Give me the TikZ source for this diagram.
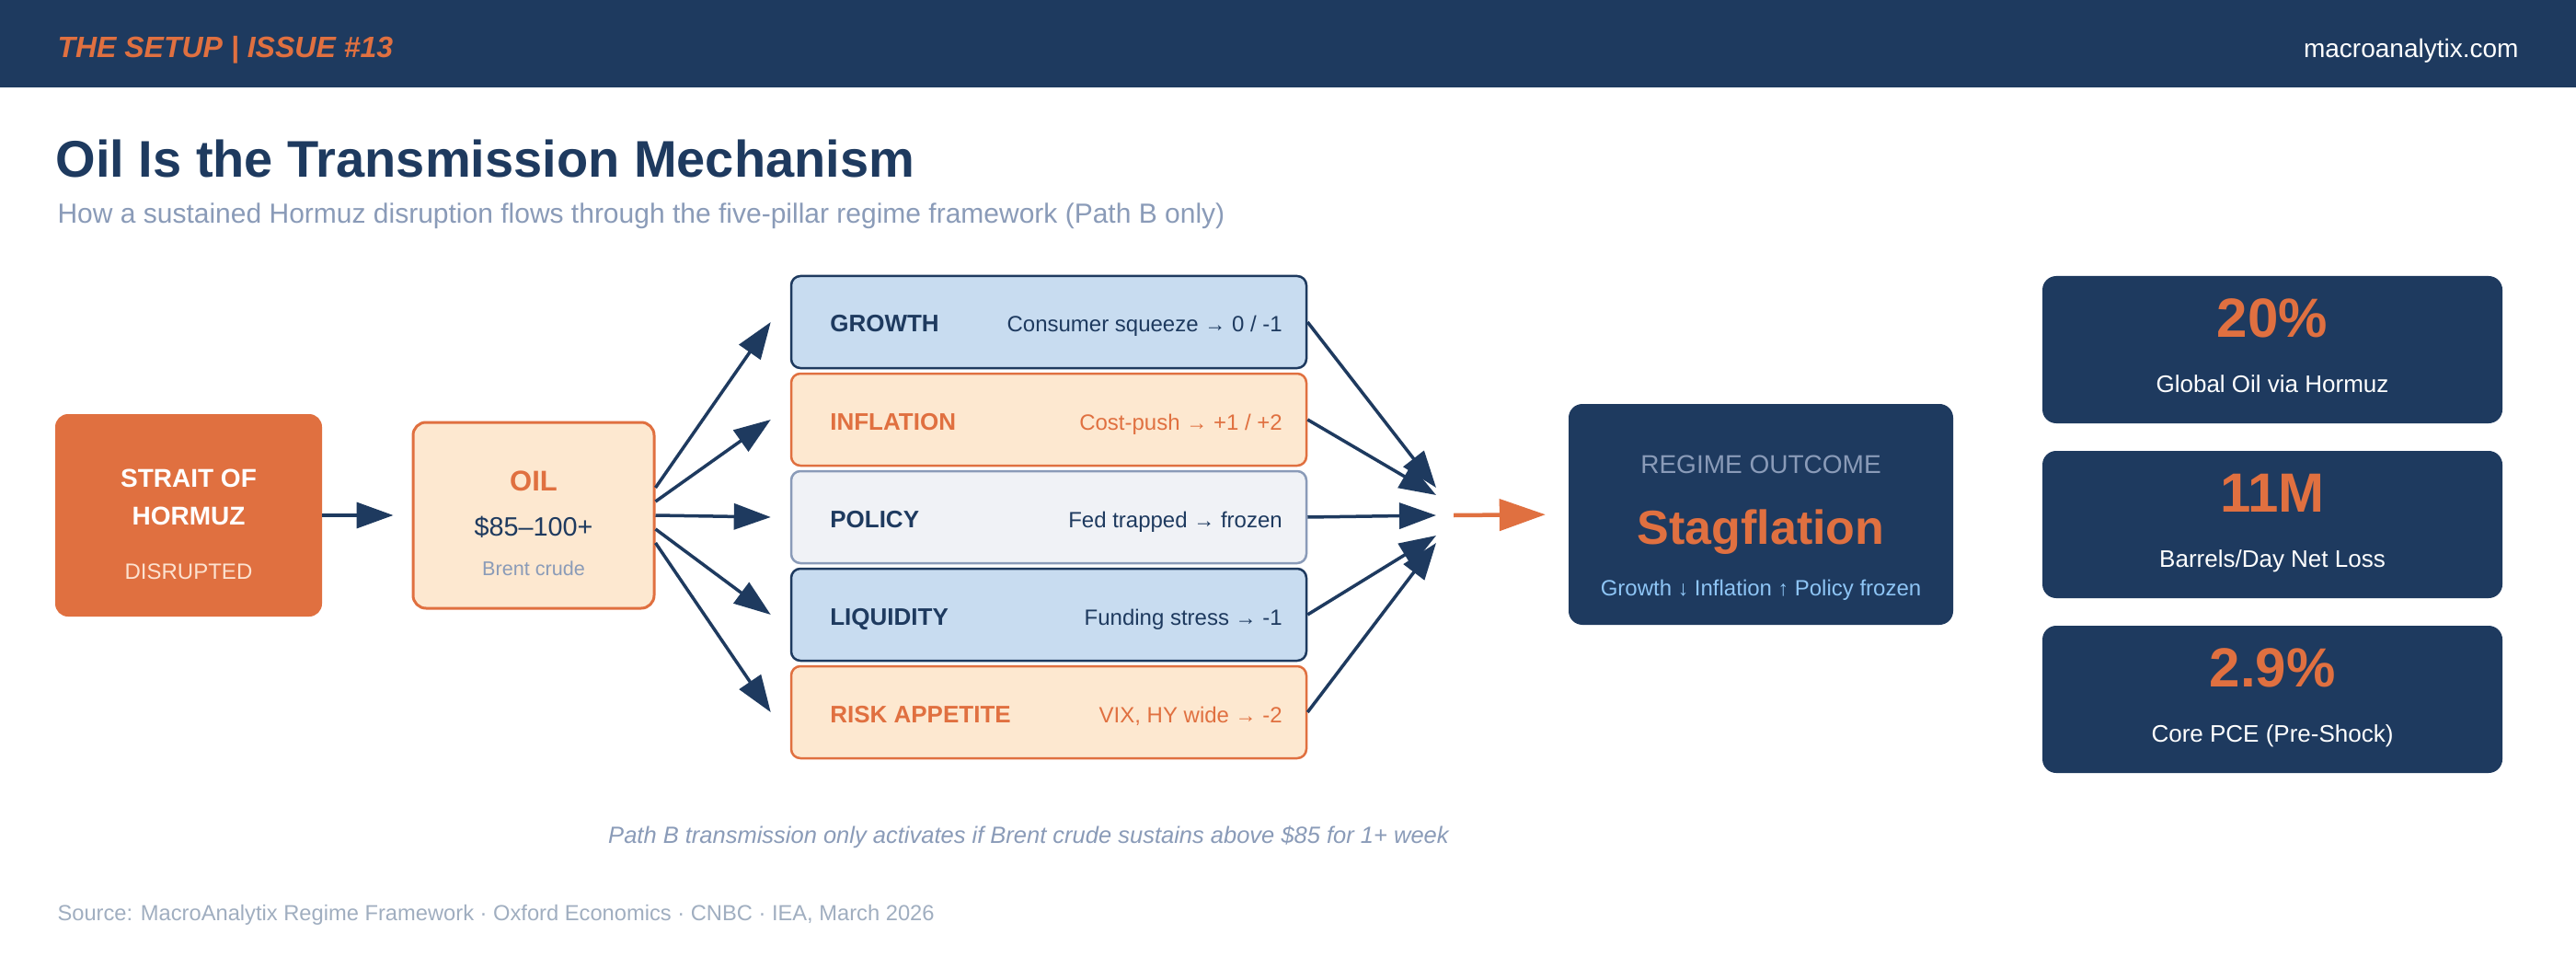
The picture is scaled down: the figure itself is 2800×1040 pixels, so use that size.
\documentclass[tikz,border=0pt]{standalone}
\usepackage{fontspec}
\setmainfont{Liberation Sans}
\usetikzlibrary{arrows.meta,calc}
\definecolor{navy}{HTML}{1E3A5F}
\definecolor{rust}{HTML}{E07040}
\definecolor{peach}{HTML}{FDE8D0}
\definecolor{skyfill}{HTML}{C8DCF0}
\definecolor{mist}{HTML}{F0F2F6}
\definecolor{slate}{HTML}{8A9BB8}
\definecolor{pale}{HTML}{A0AEC0}
\definecolor{icy}{HTML}{8EC5F5}
\definecolor{blush}{HTML}{FCE2D0}
\newcommand{\fs}[1]{\fontsize{#1}{#1}\selectfont}
\newcommand{\sarr}[1]{{\fs{23}#1}}
\begin{document}
\begin{tikzpicture}[x=1pt,y=-1pt,
  pillar/.style={draw,line width=2.5pt,rounded corners=10pt,minimum width=560pt,minimum height=100pt,inner sep=0pt},
  darkbox/.style={fill=navy,rounded corners=15pt,inner sep=0pt},
  flow/.style={-{Triangle[length=40pt,width=28pt]},line width=3.5pt,navy},
  tag/.style={anchor=base west,font=\fs{26}\bfseries},
  note/.style={anchor=base east,font=\fs{24}}]
  \useasboundingbox (0,0) rectangle (2800,1040);
  \fill[white] (0,0) rectangle (2800,1040);
  % header band
  \fill[navy] (0,0) rectangle (2800,95);
  \node[anchor=base west,text=rust,font=\fs{32}\bfseries\itshape] (issue) at (59,63) {THE SETUP | ISSUE \#13};
  \node[anchor=base east,text=white,font=\fs{28}] (site) at (2741,63) {macroanalytix.com};
  \node[anchor=base west,text=navy,font=\fs{56}\bfseries] (title) at (57,193) {Oil Is the Transmission Mechanism};
  \node[anchor=base west,text=slate,font=\fs{30}] (subtitle) at (59,243) {How a sustained Hormuz disruption flows through the five-pillar regime framework (Path B only)};
  % source and oil
  \node[fill=rust,rounded corners=14pt,minimum width=290pt,minimum height=220pt,inner sep=0pt] (strait) at (205,560) {};
  \node[anchor=base,text=white,font=\fs{28}\bfseries] at ($(strait.north)+(0,80)$) {STRAIT OF};
  \node[anchor=base,text=white,font=\fs{28}\bfseries] at ($(strait.north)+(0,121)$) {HORMUZ};
  \node[anchor=base,text=blush,font=\fs{24}] at ($(strait.north)+(0,180)$) {DISRUPTED};
  \node[draw=rust,fill=peach,line width=3pt,rounded corners=14pt,minimum width=262pt,minimum height=202pt,inner sep=0pt] (oil) at (580,560) {};
  \node[anchor=base,text=rust,font=\fs{31}\bfseries] at ($(oil.north)+(0,76)$) {OIL};
  \node[anchor=base,text=navy,font=\fs{28.8}] at ($(oil.north)+(0,125)$) {\$85–100+};
  \node[anchor=base,text=slate,font=\fs{21.6}] at ($(oil.north)+(0,168)$) {Brent crude};
  \draw[flow,shorten >=20pt] (strait.east) -- (oil.west);
  % five pillars
  \node[pillar,draw=navy,fill=skyfill] (growth) at (1140,350) {};
  \node[pillar,draw=rust,fill=peach] (inflation) at (1140,456) {};
  \node[pillar,draw=slate,fill=mist] (policy) at (1140,562) {};
  \node[pillar,draw=navy,fill=skyfill] (liquidity) at (1140,668) {};
  \node[pillar,draw=rust,fill=peach] (risk) at (1140,774) {};
  \node[tag,text=navy] at ($(growth.west)+(40,11)$) {GROWTH};
  \node[note,text=navy] at ($(growth.east)+(-24,11)$) {Consumer squeeze \sarr{→} 0 / -1};
  \node[tag,text=rust] at ($(inflation.west)+(40,11)$) {INFLATION};
  \node[note,text=rust] at ($(inflation.east)+(-24,11)$) {Cost-push \sarr{→} +1 / +2};
  \node[tag,text=navy] at ($(policy.west)+(40,11)$) {POLICY};
  \node[note,text=navy] at ($(policy.east)+(-24,11)$) {Fed trapped \sarr{→} frozen};
  \node[tag,text=navy] at ($(liquidity.west)+(40,11)$) {LIQUIDITY};
  \node[note,text=navy] at ($(liquidity.east)+(-24,11)$) {Funding stress \sarr{→} -1};
  \node[tag,text=rust] at ($(risk.west)+(40,11)$) {RISK APPETITE};
  \node[note,text=rust] at ($(risk.east)+(-24,11)$) {VIX, HY wide \sarr{→} -2};
  \foreach \p/\dy in {growth/-30,inflation/-15,policy/0,liquidity/15,risk/30}
    \draw[flow] ($(oil.east)+(0,\dy)$) -- ($(\p.west)+(-21,0)$);
  % convergence
  \coordinate (hub) at (1561,560);
  \foreach \p/\dy in {growth/-30,inflation/-22,policy/0,liquidity/22,risk/30}
    \draw[flow] (\p.east) -- ($(hub)+(0,\dy)$);
  \node[darkbox,minimum width=418pt,minimum height=240pt] (outcome) at (1914,559) {};
  \draw[-{Triangle[length=50pt,width=34pt]},line width=4.5pt,rust,shorten >=25pt] ($(hub)+(19,0)$) -- (outcome.west);
  \node[anchor=base,text=slate,font=\fs{28}] at ($(outcome.north)+(0,76)$) {REGIME OUTCOME};
  \node[anchor=base,text=rust,font=\fs{52}\bfseries] at ($(outcome.north)+(0,153)$) {Stagflation};
  \node[anchor=base,text=icy,font=\fs{24}] at ($(outcome.north)+(0,209)$) {Growth \sarr{↓} Inflation \sarr{↑} Policy frozen};
  % stat cards
  \node[darkbox,minimum width=500pt,minimum height=160pt] (share) at (2470,380) {};
  \node[anchor=base,text=rust,font=\fs{60}\bfseries] at ($(share.north)+(0,67)$) {20\%};
  \node[anchor=base,text=white,font=\fs{26}] at ($(share.north)+(0,127)$) {Global Oil via Hormuz};
  \node[darkbox,minimum width=500pt,minimum height=160pt] (barrels) at (2470,570) {};
  \node[anchor=base,text=rust,font=\fs{60}\bfseries] at ($(barrels.north)+(0,67)$) {11M};
  \node[anchor=base,text=white,font=\fs{26}] at ($(barrels.north)+(0,127)$) {Barrels/Day Net Loss};
  \node[darkbox,minimum width=500pt,minimum height=160pt] (pce) at (2470,760) {};
  \node[anchor=base,text=rust,font=\fs{60}\bfseries] at ($(pce.north)+(0,67)$) {2.9\%};
  \node[anchor=base,text=white,font=\fs{26}] at ($(pce.north)+(0,127)$) {Core PCE (Pre-Shock)};
  % footer
  \node[anchor=base,text=slate,font=\fs{25.5}\itshape] (caveat) at (1118,916) {Path B transmission only activates if Brent crude sustains above \$85 for 1+ week};
  \node[anchor=base west,text=pale,font=\fs{23.7}] (source) at (59,1000) {Source: MacroAnalytix Regime Framework · Oxford Economics · CNBC · IEA, March 2026};
\end{tikzpicture}
\end{document}
